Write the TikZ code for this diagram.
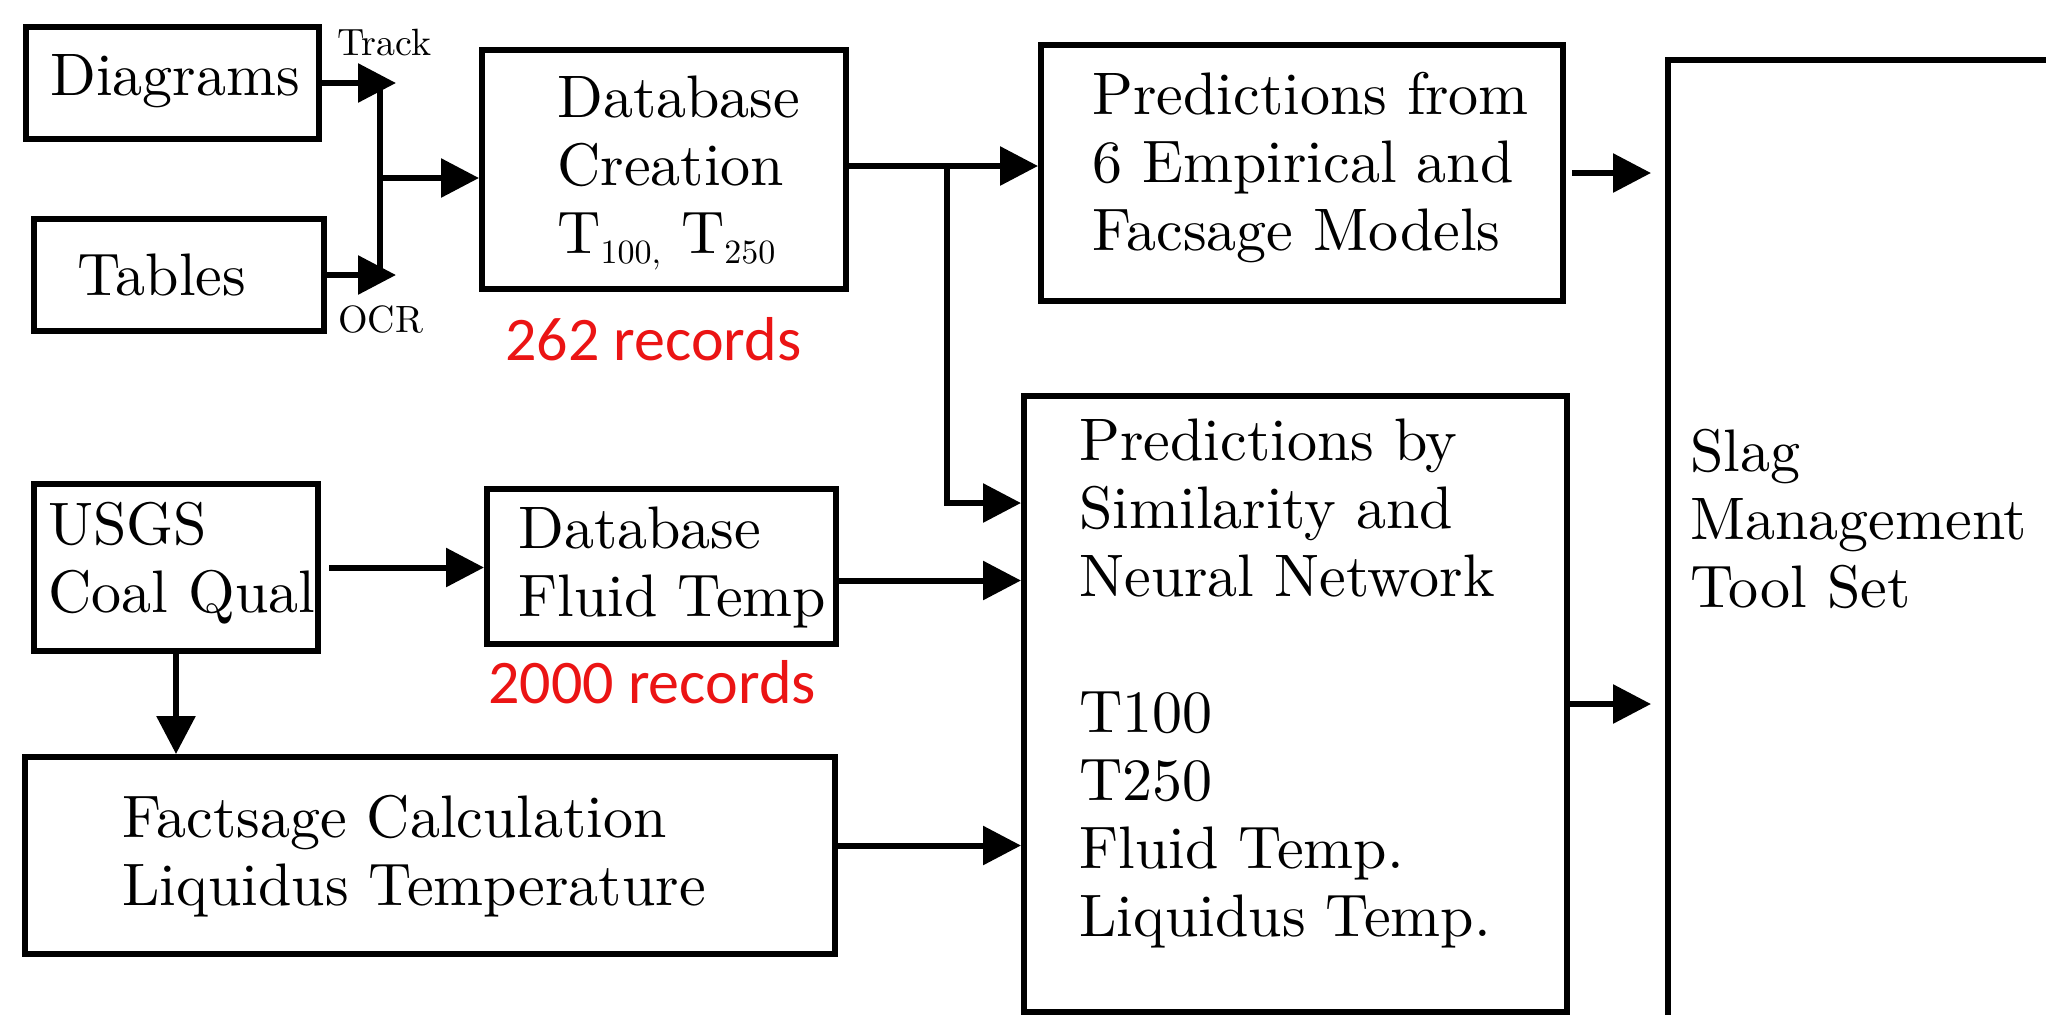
\documentclass[tikz,border=0pt]{standalone}
\usepackage{fontspec}
\setmainfont{lmroman10-regular.otf}
\newfontfamily\carlito{Carlito}
\usetikzlibrary{arrows.meta}
\definecolor{recred}{RGB}{235,20,20}
\newcommand\tsub[1]{\raisebox{-5pt}{\fontsize{17}{17}\selectfont #1}}
\begin{document}
\begin{tikzpicture}[x=0.5pt,y=-0.5pt,
  box/.style={draw, line width=3pt, anchor=north west, inner sep=0pt},
  lbl/.style={anchor=base west, inner sep=0pt, align=left, font=\fontsize{30}{34}\selectfont},
  smalllbl/.style={anchor=base west, inner sep=0pt, font=\fontsize{19}{22}\selectfont},
  rec/.style={anchor=base west, inner sep=0pt, text=recred, font=\carlito\fontsize{31}{34}\selectfont},
  arr/.style={line width=3pt, -{Triangle[length=19pt,width=19pt]}},
  ln/.style={line width=3pt}]
\useasboundingbox (0,0) rectangle (2046,1014);
\fill[white] (0,0) rectangle (2046,1014);
\clip (0,0) rectangle (2046,1014);

% boxes
\node[box, minimum width=146.5pt, minimum height=56pt] (dia) at (23,24) {};
\node[box, minimum width=145pt, minimum height=56pt] (tab) at (31,216) {};
\node[box, minimum width=182pt, minimum height=119.5pt] (db) at (479,47) {};
\node[box, minimum width=261pt, minimum height=128pt] (pf) at (1038,42) {};
\node[box, minimum width=300pt, minimum height=550pt] (slag) at (1665,57) {};
\node[box, minimum width=271.5pt, minimum height=308pt] (ps) at (1021,393) {};
\node[box, minimum width=142pt, minimum height=83.5pt] (usgs) at (31,481) {};
\node[box, minimum width=174.5pt, minimum height=77.5pt] (dbf) at (484,486) {};
\node[box, minimum width=405pt, minimum height=98.5pt] (fs) at (22,754) {};

% texts (anchored at the baseline of their last line)
\node[lbl] (tdia) at (50,95) {Diagrams};
\node[lbl] (ttab) at (77,295) {Tables};
\node[smalllbl] (ttrack) at (337,55) {Track};
\node[smalllbl] (tocr) at (338,332) {OCR};
\node[lbl] (tdb) at (557,253) {Database\\Creation\\T\tsub{100,} T\tsub{250}};
\node[rec] (r262) at (505,360) {262 records};
\node[lbl] (tpf) at (1092,250) {Predictions from\\6 Empirical and\\Facsage Models};
\node[lbl] (tslag) at (1690,607) {Slag\\Management\\Tool Set};
\node[lbl] (tps) at (1079,936) {Predictions by\\Similarity and\\Neural Network\\[34pt]T100\\T250\\Fluid Temp.\\Liquidus Temp.};
\node[lbl] (tusgs) at (48,612) {USGS\\Coal Qual};
\node[lbl] (tdbf) at (518,616) {Database\\Fluid Temp};
\node[rec] (r2000) at (488,703) {2000 records};
\node[lbl] (tfs) at (122,905) {Factsage Calculation\\Liquidus Temperature};

% connectors
\coordinate (bar) at (380,178);
\coordinate (bartip) at (396,178);
\coordinate (jx) at (947,503);
\draw[ln] (dia.east -| bar) -- (tab.east -| bar);
\draw[arr] (dia.east) -- (dia.east -| bartip);
\draw[arr] (tab.east) -- (tab.east -| bartip);
\draw[arr] (bar) -- (bar -| db.west);
\draw[arr] ([yshift=1.75pt]db.east) -- ([yshift=1.75pt]db.east -| pf.west);
\draw[arr] ([yshift=1.75pt]db.east -| jx) |- (jx -| ps.west);
\draw[arr, shorten <=3pt, shorten >=7pt] (pf.east) -- (pf.east -| slag.west);
\draw[arr, shorten >=7pt] (ps.east) -- (ps.east -| slag.west);
\draw[arr, shorten <=4pt] (usgs.east) -- (usgs.east -| dbf.west);
\draw[arr] ([yshift=-7pt]dbf.east) -- ([yshift=-7pt]dbf.east -| ps.west);
\draw[arr] ([yshift=5pt]fs.east) -- ([yshift=5pt]fs.east -| ps.west);
\draw[arr] (usgs.south) -- (usgs.south |- fs.north);
\end{tikzpicture}
\end{document}
